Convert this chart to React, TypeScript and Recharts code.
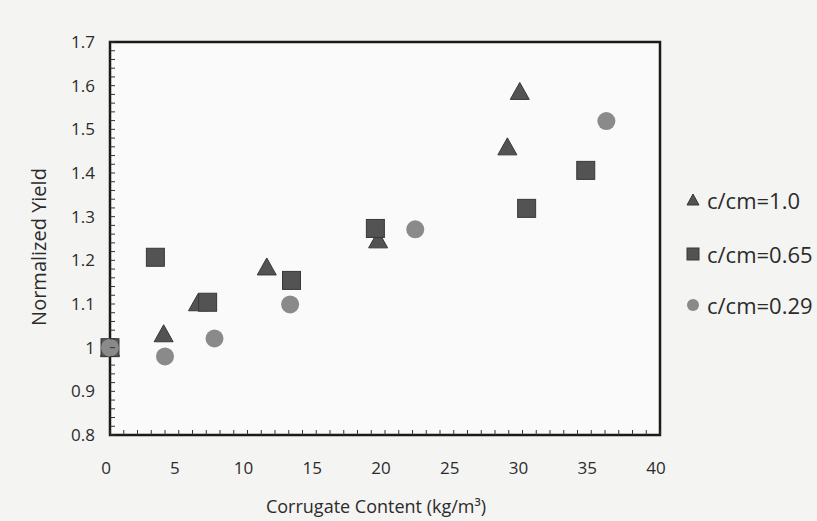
import React from 'react';
import { ScatterChart, Scatter, XAxis, YAxis, ReferenceArea, Legend, Label, CartesianGrid } from 'recharts';

// ---- data ----
const seriesNames = ['c/cm=1.0', 'c/cm=0.65', 'c/cm=0.29'];

const triX = [0, 3.9, 6.4, 11.4, 19.5, 28.9, 29.8];
const triY = [1.0, 1.033, 1.104, 1.186, 1.248, 1.461, 1.588];

const sqX = [0, 3.3, 7.1, 13.2, 19.3, 30.3, 34.6];
const sqY = [1.0, 1.207, 1.104, 1.154, 1.273, 1.319, 1.406];

const circX = [0, 4.0, 7.6, 13.1, 22.2, 36.1];
const circY = [1.0, 0.98, 1.021, 1.099, 1.271, 1.519];

// labelled (major) ticks
const xTickLabels = [0, 5, 10, 15, 20, 25, 30, 35, 40];
const yTickLabels = [0.8, 0.9, 1, 1.1, 1.2, 1.3, 1.4, 1.5, 1.6, 1.7];
// all tick marks (minor, inward)
const xMinorTicks = Array.from({ length: 41 }, (_, i) => i);
const yMinorTicks = Array.from({ length: 46 }, (_, i) => Math.round((0.8 + i * 0.02) * 1000) / 1000);

const xTitle = 'Corrugate Content (kg/m³)';
const yTitle = 'Normalized Yield';

const toPoints = (xs: number[], ys: number[]) => xs.map((x, i) => ({ x, y: ys[i] }));
const triData = toPoints(triX, triY);
const sqData = toPoints(sqX, sqY);
const circData = toPoints(circX, circY);

const FONT = '"Open Sans", "Noto Sans", sans-serif';
const TEXT = '#2b2b2b';
const DARK = '#535353';
const DARK_STROKE = '#383838';
const LIGHT = '#8a8a8a';
const TICK = '#333333';

const isLabelX = (v: number) => xTickLabels.some((t) => Math.abs(t - v) < 1e-6);
const isLabelY = (v: number) => yTickLabels.some((t) => Math.abs(t - v) < 1e-6);

const XTick = (props: any) => {
  const { x, y, payload } = props;
  const v = payload.value;
  return (
    <g>
      <line x1={x} y1={y} x2={x} y2={y - 5} stroke={TICK} strokeWidth={1} />
      {isLabelX(v) && (
        <text x={x - 4} y={y + 27} dy="0.71em" textAnchor="middle" fontFamily={FONT} fontSize={17} fill={TEXT}>
          {String(v)}
        </text>
      )}
    </g>
  );
};

const YTick = (props: any) => {
  const { x, y, payload } = props;
  const v = payload.value;
  return (
    <g>
      <line x1={x} y1={y} x2={x + 5} y2={y} stroke={TICK} strokeWidth={1} />
      {isLabelY(v) && (
        <text x={x - 15} y={y} dy="0.355em" textAnchor="end" fontFamily={FONT} fontSize={17} fill={TEXT}>
          {String(Math.round(v * 10) / 10)}
        </text>
      )}
    </g>
  );
};

const Triangle = (props: any) => {
  const { cx, cy } = props;
  if (cx == null || cy == null) return null;
  const w = 19;
  const h = 17;
  return (
    <path
      d={`M${cx},${cy - h / 2} L${cx + w / 2},${cy + h / 2} L${cx - w / 2},${cy + h / 2} Z`}
      fill={DARK}
      stroke={DARK_STROKE}
      strokeWidth={1}
    />
  );
};

const Square = (props: any) => {
  const { cx, cy } = props;
  if (cx == null || cy == null) return null;
  const s = 18;
  return <rect x={cx - s / 2} y={cy - s / 2} width={s} height={s} fill={DARK} stroke={DARK_STROKE} strokeWidth={1} />;
};

const Circle = (props: any) => {
  const { cx, cy } = props;
  if (cx == null || cy == null) return null;
  return <circle cx={cx} cy={cy} r={9} fill={LIGHT} />;
};

const LegendContent = () => {
  const rows = [
    { top: 0, marker: <path d="M7,1 L13,12 L1,12 Z" fill={DARK} stroke={DARK_STROKE} /> },
    { top: 54, marker: <rect x={1} y={1} width={12} height={12} fill={DARK} stroke={DARK_STROKE} /> },
    { top: 105, marker: <circle cx={7} cy={7} r={6} fill={LIGHT} /> },
  ];
  return (
    <div style={{ position: 'relative', width: 134, height: 140 }}>
      {rows.map((r, i) => (
        <div
          key={i}
          style={{
            position: 'absolute',
            left: 0,
            top: r.top,
            height: 34,
            display: 'flex',
            alignItems: 'center',
            whiteSpace: 'nowrap',
          }}
        >
          <svg width={14} height={14} style={{ marginRight: 7 }}>
            {r.marker}
          </svg>
          <span style={{ fontFamily: FONT, fontSize: 22, color: TEXT }}>{seriesNames[i]}</span>
        </div>
      ))}
    </div>
  );
};

const XTitle = () => (
  <text x={376} y={506} textAnchor="middle" dominantBaseline="central" fontFamily={FONT} fontSize={18} fill={TEXT}>
    {xTitle}
  </text>
);

const YTitle = () => (
  <text
    x={38}
    y={247}
    transform="rotate(-90 38 247)"
    textAnchor="middle"
    dominantBaseline="central"
    fontFamily={FONT}
    fontSize={20}
    fill={TEXT}
  >
    {yTitle}
  </text>
);

export default function App() {
  return (
    <div style={{ position: 'absolute', left: 0, top: 0, width: 817, height: 521, background: '#f4f4f3' }}>
      <ScatterChart width={817} height={521} margin={{ top: 42, right: 157, bottom: 0, left: 0 }}>
        <CartesianGrid horizontal={false} vertical={false} fill="#fafafa" fillOpacity={1} />
        <XAxis
          type="number"
          dataKey="x"
          domain={[0, 40]}
          ticks={xMinorTicks}
          interval={0}
          tickLine={false}
          tickSize={0}
          tickMargin={0}
          axisLine={false}
          height={86}
          tick={<XTick />}
        >
          <Label content={<XTitle />} />
        </XAxis>
        <YAxis
          type="number"
          dataKey="y"
          domain={[0.8, 1.7]}
          ticks={yMinorTicks}
          interval={0}
          tickLine={false}
          tickSize={0}
          tickMargin={0}
          axisLine={false}
          width={110}
          tick={<YTick />}
        >
          <Label content={<YTitle />} />
        </YAxis>
        <ReferenceArea x1={0} x2={40} y1={0.8} y2={1.7} fill="none" fillOpacity={0} stroke="#1a1a1a" strokeWidth={2.5} />
        <Scatter name={seriesNames[0]} data={triData} shape={<Triangle />} isAnimationActive={false} />
        <Scatter name={seriesNames[1]} data={sqData} shape={<Square />} isAnimationActive={false} />
        <Scatter name={seriesNames[2]} data={circData} shape={<Circle />} isAnimationActive={false} />
        <Legend
          layout="vertical"
          align="center"
          verticalAlign="middle"
          content={<LegendContent />}
          wrapperStyle={{ position: 'absolute', left: 686, top: 183, width: 134 }}
        />
      </ScatterChart>
    </div>
  );
}
